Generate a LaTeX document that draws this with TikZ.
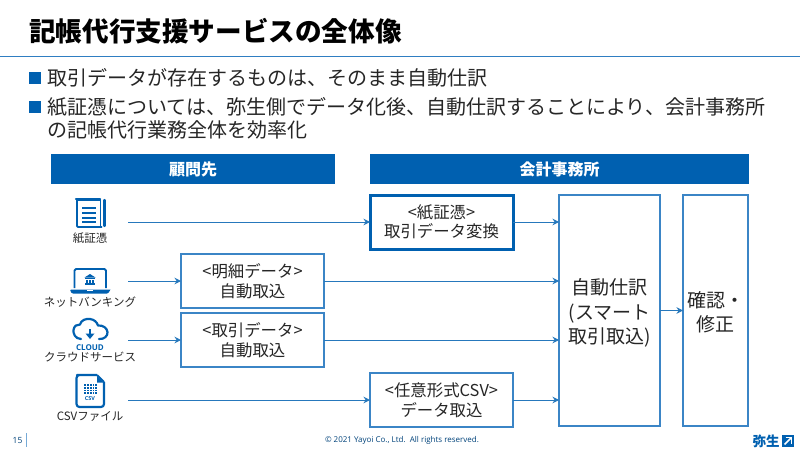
\documentclass[tikz,border=0pt]{standalone}
\usepackage{fontspec}
\setmainfont{Noto Sans CJK JP}
\newfontfamily\latinf{Open Sans}
\usetikzlibrary{arrows.meta,calc}
\definecolor{ybluedark}{HTML}{0060B0}
\definecolor{yblue}{HTML}{3B85C6}
\definecolor{ytext}{HTML}{262626}
\newcommand{\fs}[1]{\fontsize{#1}{#1}\selectfont}
\tikzset{
  hdr/.style={fill=ybluedark,draw=none,text=white,font=\fs{16}\bfseries,inner sep=0pt,outer sep=0pt,minimum height=30pt},
  bx/.style={draw=yblue,line width=1.1pt,fill=white,text=ytext,inner sep=0pt,outer sep=0pt,align=center,minimum width=143pt,minimum height=54pt,font=\fontsize{16.4}{19.5}\selectfont},
  tall/.style={draw=yblue,line width=1.1pt,fill=white,text=ytext,inner sep=0pt,outer sep=0pt,align=center,minimum height=231pt,font=\fontsize{19}{24.5}\selectfont},
  conn/.style={draw=ybluedark!85!white,line width=1pt,-{Stealth[length=6.5pt,width=6.5pt]}},
  ttl/.style={anchor=west,text=black,inner sep=0pt,font=\fs{26.6}\bfseries},
  bul/.style={anchor=west,text=ytext,inner sep=0pt,font=\fs{20}},
  lbl/.style={text=ytext,inner sep=0pt,font=\fs{11.5}},
  ico/.style={draw=ybluedark,line width=1.8pt,line join=round},
  icof/.style={fill=ybluedark,draw=none},
  sq/.style={fill=ybluedark,draw=none,minimum size=12pt,inner sep=0pt}
}
\begin{document}
\begin{tikzpicture}[x=1pt,y=-1pt]
\useasboundingbox (0,0) rectangle (800,450);
\fill[white] (0,0) rectangle (800,450);
% title
\node[ttl] (title) at (29,31) {記帳代行支援サービスの全体像};
\draw[draw=yblue!80!ybluedark,line width=1.1pt] (0,56.5) -- (800,56.5);
% bullets
\node[sq] (b1) at (35,78) {};
\node[bul] (t1) at (47,78) {取引データが存在するものは、そのまま自動仕訳};
\node[sq] (b2) at (35,107) {};
\node[bul] (t2) at (47,107) {紙証憑については、弥生側でデータ化後、自動仕訳することにより、会計事務所};
\node[bul] (t3) at (47,130) {の記帳代行業務全体を効率化};
% headers
\node[hdr,minimum width=284pt] (h1) at (193,169) {顧問先};
\node[hdr,minimum width=379pt] (h2) at (559.5,169) {会計事務所};
% boxes
\node[bx,draw=ybluedark,line width=3pt] (bA) at (441.5,222) {<紙証憑>\\取引データ変換};
\node[bx] (bB) at (252.5,281) {<明細データ>\\自動取込};
\node[bx] (bC) at (252.5,340) {<取引データ>\\自動取込};
\node[bx] (bD) at (441.5,400) {<任意形式CSV>\\データ取込};
\node[tall,minimum width=101pt] (main) at (609.5,310.5) {\rule{0pt}{21.5pt}自動仕訳\\(スマート\\取引取込)};
\node[tall,minimum width=65pt] (chk) at (715.5,310.5) {\rule{0pt}{20pt}確認・\\修正};
% sources
\coordinate (sA) at (128,222);
\coordinate (sB) at (128,281);
\coordinate (sC) at (128,340);
\coordinate (sD) at (128,400);
\draw[conn] (sA) -- (bA.west);
\draw[conn] (sB) -- (bB.west);
\draw[conn] (sC) -- (bC.west);
\draw[conn] (sD) -- (bD.west);
\draw[conn] (bA.east) -- (bA.east -| main.west);
\draw[conn] (bB.east) -- (bB.east -| main.west);
\draw[conn] (bC.east) -- (bC.east -| main.west);
\draw[conn] (bD.east) -- (bD.east -| main.west);
\draw[conn] (main.east) -- (chk.west);
% labels
\node[lbl] (l1) at (90,238) {紙証憑};
\node[lbl] (l2) at (90,302) {ネットバンキング};
\node[lbl] (l3) at (90,357) {クラウドサービス};
\node[lbl] (l4) at (90,416) {CSVファイル};
% document icon
\draw[ico,rounded corners=1pt] (77,200) -- (77,227) -- (102,227);
\draw[ico] (77,200) -- (101,200);
\draw[ico,line width=1.4pt] (100.5,201) -- (100.5,226);
\draw[ico,line width=2.2pt,line cap=round] (76,199) -- (100,199);
\draw[ico,line width=2.2pt,line cap=round] (104.5,200) -- (104.5,226);
\foreach \yy in {208,213,218,222}{\draw[draw=ybluedark,line width=1.2pt] (82,\yy) -- (96,\yy);}
% laptop icon
\draw[ico,rounded corners=1.5pt] (74.5,288) -- (74.5,269) -- (106,269) -- (106,288);
\path[icof] (70,289.5) -- (110.5,289.5) -- (109,292) [rounded corners=1pt] -- (108,293.5) -- (72,293.5) -- (71,292) -- cycle;
\fill[white] (87,290.2) rectangle (93,291.4);
\path[icof] (90,274) -- (95.5,277.5) -- (84.5,277.5) -- cycle;
\fill[ybluedark] (85,278.3) rectangle (95,279);
\foreach \xx in {86,89.2,92.4}{\fill[ybluedark] (\xx,279.5) rectangle (\xx+1.6,283);}
\fill[ybluedark] (85,283.3) rectangle (95,284.5);
% cloud icon
\draw[ico,line width=2.2pt,line cap=round] (81,339) .. controls (75,339) and (73,333) .. (73.5,330)
  .. controls (74,326) and (77,324) .. (80,324.5)
  .. controls (81,320) and (86,318.5) .. (90,319)
  .. controls (94,319.5) and (97,322) .. (98,325.5)
  .. controls (103,325) and (107,328) .. (107.5,332)
  .. controls (108,336) and (104,339.5) .. (99,339);
\draw[draw=ybluedark,line width=1.6pt] (90,329) -- (90,335);
\path[icof] (85.5,333.5) -- (94.5,333.5) -- (90,339) -- cycle;
\node[inner sep=0pt,text=ybluedark,font=\latinf\fs{8}\bfseries] (ci) at (90,348) {CLOUD};
% CSV file icon
\draw[ico,line width=2.2pt,rounded corners=3pt] (97,375) -- (80,375) -- (76.5,375) -- (76.5,407) -- (104,407) -- (104,382);
\draw[ico,line width=2pt,line join=round] (97,375) -- (104,382);
\path[icof] (97,376) -- (97,382.5) -- (103.5,382.5) -- cycle;
\fill[ybluedark] (84,384) rectangle (97,393.5);
\foreach \xx in {86.6,89.2,91.8,94.4}{\draw[white,line width=.35pt] (\xx,384) -- (\xx,393.5);}
\foreach \yy in {386.4,388.8,391.2}{\draw[white,line width=.35pt] (84,\yy) -- (97,\yy);}
\node[inner sep=0pt,text=ybluedark,font=\latinf\fs{5.5}\bfseries] (ci2) at (90,399) {CSV};
% footer
\node[inner sep=0pt,text=ybluedark!70!black,font=\latinf\fs{8.5}] (pg) at (17.5,440.5) {15};
\draw[draw=yblue!70!white,line width=.8pt] (26,433) -- (26,447);
\node[inner sep=0pt,text=ybluedark!70!black,font=\latinf\fs{8}] (cr) at (402,440.5) {© 2021 Yayoi Co., Ltd.\ \ All rights reserved.};
\node[inner sep=0pt,text=ybluedark,font=\fs{13.5}\bfseries] (lg) at (766,441) {弥生};
\fill[ybluedark] (782,435) rectangle (794,447);
\draw[white,line width=1.5pt] (784.5,444.5) -- (791,438);
\draw[white,line width=1.3pt] (785.5,437.8) -- (791.6,437.8) -- (791.6,444);
\end{tikzpicture}
\end{document}
